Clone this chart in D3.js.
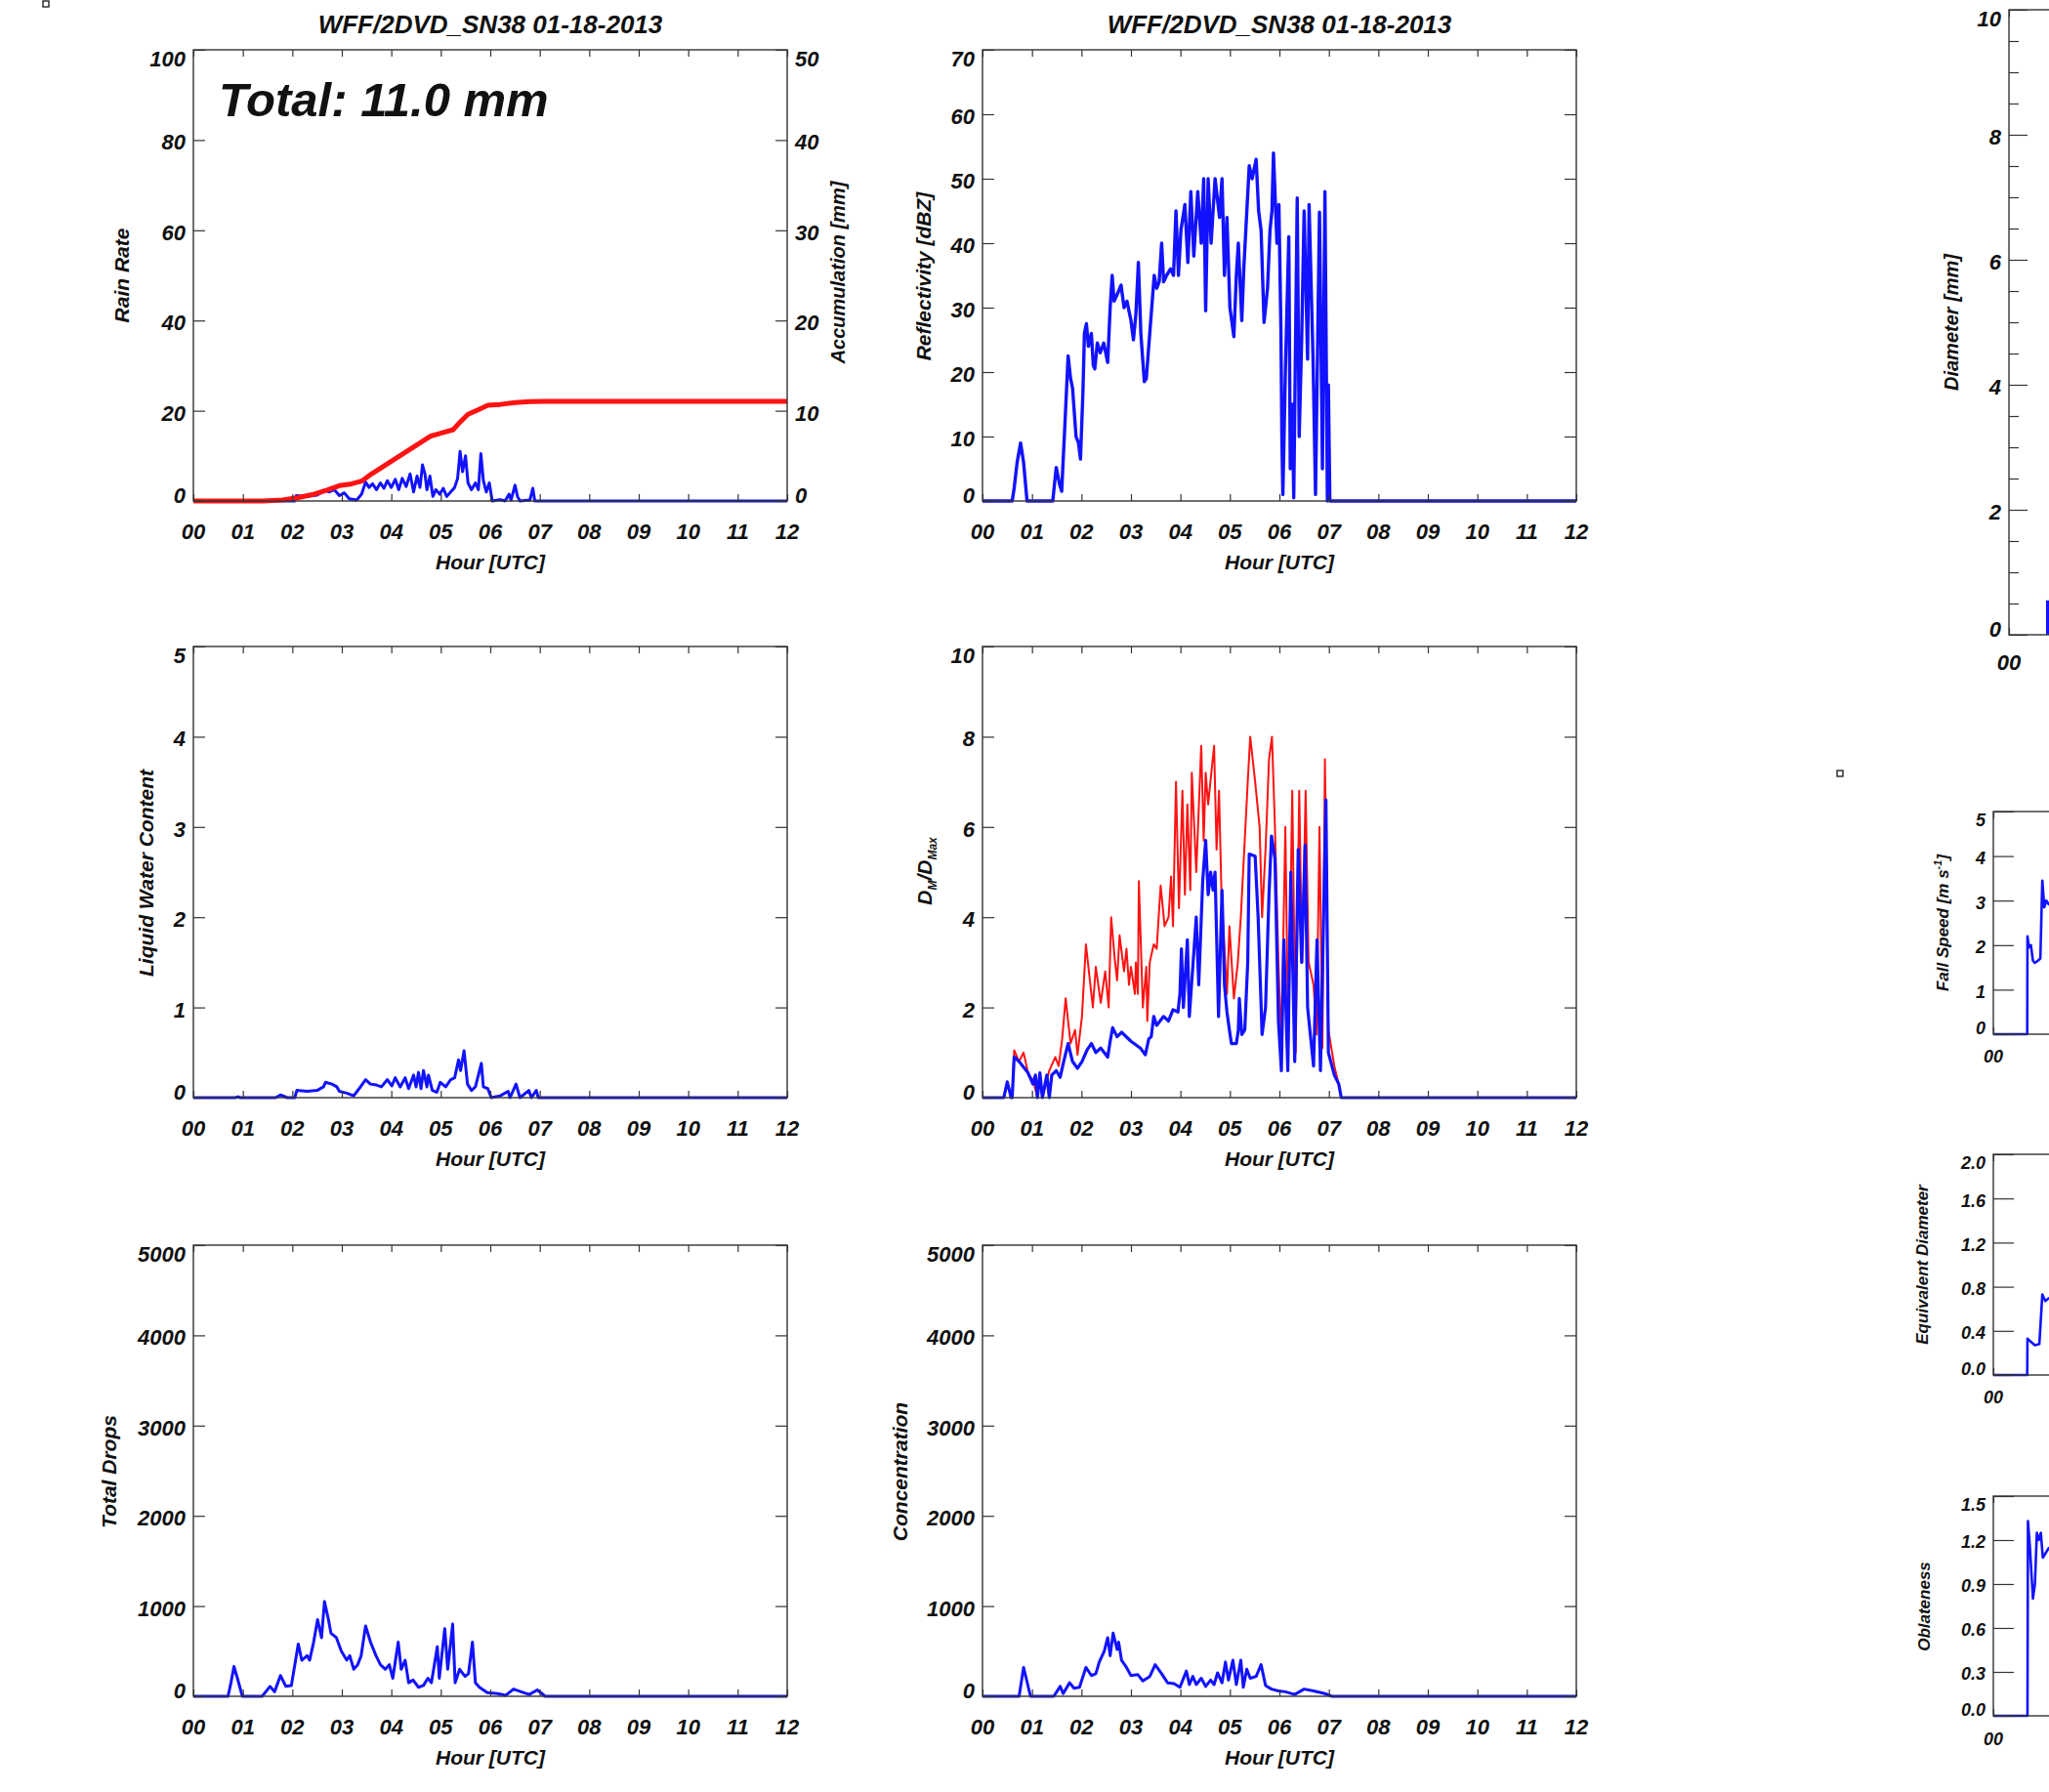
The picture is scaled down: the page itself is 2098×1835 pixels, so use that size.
<!DOCTYPE html>
<html>
<head>
<meta charset="utf-8">
<script src="https://cdn.jsdelivr.net/npm/d3@7"></script>
<style>
  body { margin: 0; background: #fff; }
  svg text { font-family: "Liberation Sans", Arial, sans-serif; font-weight: bold; font-style: italic; fill: #111; }
</style>
</head>
<body>
<div id="chart"></div>
<script>
// ---- data ----
const chartTitle = "WFF/2DVD_SN38 01-18-2013";
const totalText = "Total: 11.0 mm";
const hourTicks = [0, 1, 2, 3, 4, 5, 6, 7, 8, 9, 10, 11, 12];
const hourLabels = ["00", "01", "02", "03", "04", "05", "06", "07", "08", "09", "10", "11", "12"];

// [hour, value]
const rainRate = [[0,0],[2.05,0],[2.08,1.2],[2.3,1.0],[2.5,1.3],[2.65,2.3],[2.75,2.0],[2.85,2.5],[2.95,1.2],[3.05,1.8],[3.15,0.5],[3.3,0.2],[3.4,1.5],[3.48,4.2],[3.55,3.0],[3.62,3.8],[3.7,2.5],[3.78,4.0],[3.85,2.8],[3.92,4.5],[4.0,3.0],[4.08,4.8],[4.15,2.5],[4.22,5.0],[4.3,3.2],[4.38,6.0],[4.45,2.0],[4.52,5.5],[4.58,3.0],[4.63,8.0],[4.68,6.0],[4.72,2.5],[4.78,5.5],[4.84,1.0],[4.9,2.5],[4.98,1.5],[5.05,2.8],[5.12,1.0],[5.2,2.0],[5.28,3.0],[5.34,5.0],[5.39,11.0],[5.44,6.5],[5.5,10.0],[5.55,4.0],[5.62,2.5],[5.7,4.0],[5.76,2.5],[5.81,10.5],[5.86,4.5],[5.92,2.0],[5.98,4.0],[6.04,0],[6.2,0.3],[6.3,0],[6.38,1.5],[6.42,0.2],[6.5,3.5],[6.55,1.0],[6.6,0],[6.8,0.2],[6.86,2.8],[6.9,0],[12,0]];
const accumulation = [[0,0],[1.4,0],[1.8,0.1],[2.1,0.35],[2.4,0.7],[2.7,1.2],[2.95,1.7],[3.2,1.9],[3.4,2.2],[3.6,3.0],[3.8,3.7],[4.0,4.4],[4.2,5.1],[4.4,5.8],[4.6,6.5],[4.8,7.2],[5.0,7.5],[5.25,7.9],[5.4,8.8],[5.55,9.6],[5.75,10.1],[5.95,10.6],[6.2,10.7],[6.5,10.9],[6.8,11.0],[7.1,11.05],[12,11.05]];
const reflectivity = [[0,0],[0.6,0],[0.64,2],[0.7,6],[0.77,9],[0.83,6],[0.9,0],[1.42,0],[1.49,5.2],[1.56,2.5],[1.6,1.5],[1.66,11],[1.73,22.5],[1.78,19],[1.82,17.5],[1.89,10],[1.94,9],[1.98,6.5],[2.03,17],[2.06,26],[2.1,27.5],[2.14,24],[2.2,26],[2.24,21],[2.27,20.5],[2.32,24.5],[2.38,23],[2.45,24.5],[2.53,21.5],[2.58,30],[2.62,35],[2.66,31],[2.72,32],[2.8,33.5],[2.86,30],[2.92,31],[3.0,28],[3.05,25],[3.1,29],[3.15,37],[3.2,26],[3.27,18.5],[3.31,19],[3.38,26],[3.47,35],[3.52,33],[3.57,34],[3.62,40],[3.66,34],[3.72,35],[3.8,36],[3.86,35],[3.91,45],[3.96,35],[4.01,42],[4.09,46],[4.15,37],[4.21,48],[4.27,38],[4.35,48],[4.42,40],[4.47,50],[4.51,29.5],[4.56,50],[4.62,40],[4.7,50],[4.79,44],[4.84,50],[4.89,35],[4.94,44],[5.0,30],[5.08,25.5],[5.13,35],[5.17,40],[5.24,28],[5.28,36],[5.39,52],[5.45,50],[5.53,53],[5.58,45],[5.63,42],[5.69,27.7],[5.76,33],[5.81,42],[5.85,45],[5.88,54],[5.95,40],[5.99,46],[6.03,27],[6.05,10],[6.07,1],[6.12,20],[6.19,41],[6.22,5],[6.26,15],[6.29,0.5],[6.36,47],[6.4,10],[6.45,25],[6.5,45],[6.57,22],[6.6,46],[6.68,22],[6.73,1],[6.81,44.8],[6.87,5],[6.92,48],[6.97,0],[6.99,18],[7.02,0],[12,0]];
const liquidWater = [[0,0],[0.85,0],[0.9,0.01],[0.95,0],[1.66,0],[1.76,0.03],[1.9,0],[2.05,0],[2.09,0.08],[2.3,0.07],[2.5,0.08],[2.63,0.12],[2.67,0.17],[2.8,0.15],[2.9,0.12],[2.95,0.07],[3.1,0.05],[3.24,0.02],[3.35,0.1],[3.48,0.2],[3.58,0.15],[3.7,0.14],[3.8,0.12],[3.92,0.2],[4.01,0.13],[4.08,0.22],[4.18,0.12],[4.28,0.22],[4.35,0.1],[4.45,0.25],[4.5,0.12],[4.55,0.28],[4.6,0.1],[4.65,0.3],[4.72,0.12],[4.75,0.25],[4.83,0.08],[4.92,0.06],[4.99,0.17],[5.1,0.12],[5.2,0.2],[5.28,0.22],[5.36,0.42],[5.4,0.3],[5.47,0.52],[5.54,0.15],[5.62,0.08],[5.7,0.12],[5.82,0.38],[5.86,0.12],[5.95,0.1],[6.02,0],[6.2,0.02],[6.36,0.07],[6.4,0],[6.52,0.15],[6.6,0],[6.78,0.08],[6.83,0],[6.93,0.08],[6.97,0],[12,0]];
const dMass = [[0,0],[0.43,0],[0.5,0.35],[0.58,0],[0.6,0],[0.64,0.9],[0.74,0.8],[0.92,0.55],[1.02,0.3],[1.07,0.5],[1.11,0],[1.16,0.55],[1.21,0],[1.3,0.5],[1.35,0],[1.4,0.5],[1.49,0.6],[1.57,0.45],[1.63,0.75],[1.73,1.2],[1.82,0.8],[1.92,0.65],[2.01,0.8],[2.11,1.05],[2.2,1.2],[2.29,1.0],[2.39,1.1],[2.53,0.9],[2.58,1.25],[2.63,1.55],[2.72,1.35],[2.81,1.45],[3.0,1.25],[3.19,1.1],[3.29,0.95],[3.36,1.3],[3.41,1.35],[3.46,1.8],[3.52,1.6],[3.66,1.8],[3.76,1.7],[3.85,1.95],[3.95,1.9],[3.99,2.3],[4.02,3.3],[4.06,2.0],[4.14,3.5],[4.18,1.8],[4.32,4.0],[4.37,2.5],[4.45,4.8],[4.51,5.7],[4.56,4.5],[4.61,5.0],[4.66,4.6],[4.7,5.0],[4.77,1.8],[4.84,4.6],[4.89,2.5],[4.94,1.9],[4.99,1.5],[5.03,1.2],[5.13,1.2],[5.17,1.5],[5.19,2.2],[5.24,1.4],[5.3,1.5],[5.36,3.0],[5.39,5.4],[5.51,5.35],[5.57,4.0],[5.65,1.4],[5.72,2.0],[5.79,4.5],[5.84,5.8],[5.91,5.3],[5.98,1.7],[6.04,0.6],[6.09,3.5],[6.17,0.6],[6.23,5.0],[6.31,0.8],[6.38,5.5],[6.45,3.0],[6.52,5.6],[6.57,2.0],[6.69,0.7],[6.76,3.5],[6.83,0.6],[6.94,6.6],[6.99,1.0],[7.11,0.5],[7.2,0.3],[7.25,0],[12,0]];
const dMax = [[0,0],[0.43,0],[0.5,0.35],[0.58,0],[0.6,0],[0.64,1.05],[0.74,0.8],[0.83,1.0],[0.93,0.5],[1.02,0.4],[1.11,0],[1.16,0.5],[1.21,0],[1.35,0.6],[1.47,0.9],[1.54,0.7],[1.61,1.3],[1.68,2.2],[1.78,1.2],[1.87,1.5],[1.92,0.95],[2.01,1.8],[2.09,3.4],[2.15,2.8],[2.23,2.0],[2.29,2.9],[2.39,2.1],[2.48,2.8],[2.55,2.0],[2.6,4.0],[2.67,3.1],[2.72,2.6],[2.77,3.6],[2.86,2.8],[2.91,3.3],[2.96,2.5],[3.0,2.9],[3.08,2.3],[3.1,3.0],[3.14,2.3],[3.16,4.8],[3.24,2.0],[3.31,2.9],[3.33,1.7],[3.38,3.0],[3.46,3.4],[3.52,3.3],[3.6,4.7],[3.68,3.8],[3.76,4.0],[3.81,4.9],[3.85,3.8],[3.91,7.0],[3.97,4.2],[4.04,6.8],[4.09,4.5],[4.14,6.5],[4.2,4.6],[4.23,7.2],[4.32,5.0],[4.42,7.8],[4.47,5.7],[4.51,7.2],[4.56,6.5],[4.68,7.8],[4.73,5.5],[4.78,6.8],[4.83,4.5],[4.94,2.3],[4.99,3.8],[5.08,2.2],[5.16,3.0],[5.22,4.0],[5.29,5.5],[5.36,7.0],[5.41,8.0],[5.51,7.0],[5.6,6.0],[5.65,4.0],[5.72,5.5],[5.79,7.5],[5.85,8.0],[5.91,6.0],[5.98,3.0],[6.04,1.2],[6.12,6.0],[6.18,1.2],[6.26,6.8],[6.33,1.0],[6.4,6.8],[6.46,3.0],[6.53,6.8],[6.59,3.0],[6.69,2.5],[6.75,1.4],[6.81,6.0],[6.87,1.1],[6.92,7.5],[6.99,1.5],[7.11,0.7],[7.2,0.3],[7.25,0],[12,0]];
const totalDrops = [[0,0],[0.7,0],[0.76,150],[0.82,330],[0.89,200],[0.99,0],[1.39,0],[1.55,110],[1.64,50],[1.76,230],[1.87,110],[1.98,120],[2.12,580],[2.19,400],[2.3,450],[2.35,400],[2.43,600],[2.51,850],[2.59,650],[2.65,1050],[2.73,850],[2.78,700],[2.89,650],[2.99,500],[3.1,400],[3.16,450],[3.24,300],[3.32,350],[3.39,450],[3.48,780],[3.58,600],[3.69,450],[3.78,350],[3.88,300],[3.96,350],[4.03,200],[4.14,600],[4.2,300],[4.28,400],[4.35,150],[4.44,180],[4.55,100],[4.65,120],[4.74,200],[4.81,150],[4.93,550],[4.97,200],[5.08,750],[5.14,300],[5.24,800],[5.29,150],[5.38,300],[5.49,220],[5.56,250],[5.64,600],[5.7,150],[5.78,100],[5.94,40],[6.15,30],[6.31,10],[6.47,80],[6.68,40],[6.79,20],[6.95,70],[7.11,0],[12,0]];
const concentration = [[0,0],[0.74,0],[0.83,320],[0.97,0],[1.44,0],[1.57,110],[1.63,30],[1.76,150],[1.85,90],[1.96,100],[2.09,320],[2.2,230],[2.29,250],[2.36,380],[2.46,500],[2.53,650],[2.58,450],[2.64,700],[2.72,520],[2.75,600],[2.81,400],[2.91,320],[3.0,230],[3.14,240],[3.24,170],[3.38,220],[3.49,350],[3.62,250],[3.74,150],[3.87,140],[3.99,100],[4.12,280],[4.18,130],[4.25,220],[4.32,130],[4.42,200],[4.51,110],[4.61,180],[4.68,130],[4.75,260],[4.84,150],[4.91,380],[4.97,180],[5.06,400],[5.13,130],[5.22,400],[5.27,100],[5.34,300],[5.41,200],[5.53,220],[5.63,350],[5.72,120],[5.84,80],[5.98,60],[6.12,50],[6.31,20],[6.5,80],[6.69,60],[6.92,30],[7.06,0],[12,0]];

// right column (cut off at the page edge)
const diameterBar = [[0.75, 0.81, 0.55]]; // [start hour, end hour, diameter]
const fallSpeed = [[0,0],[0.685,0],[0.69,2.2],[0.72,1.95],[0.76,2.0],[0.8,1.65],[0.84,1.6],[0.9,1.65],[0.95,1.7],[0.99,3.45],[1.03,2.85],[1.07,3.0],[1.13,2.9]];
const eqDiameter = [[0,0],[0.685,0],[0.69,0.33],[0.76,0.3],[0.84,0.27],[0.93,0.28],[0.99,0.73],[1.05,0.67],[1.13,0.7]];
const oblateness = [[0,0],[0.69,0],[0.7,1.33],[0.74,1.15],[0.8,0.8],[0.84,0.9],[0.88,1.25],[0.92,1.2],[0.96,1.25],[1.0,1.08],[1.13,1.15]];

const rainTicks = [0, 20, 40, 60, 80, 100];
const accTicks = [0, 10, 20, 30, 40, 50];
const dbzTicks = [0, 10, 20, 30, 40, 50, 60, 70];
const lwcTicks = [0, 1, 2, 3, 4, 5];
const dTicks = [0, 2, 4, 6, 8, 10];
const dropTicks = [0, 1000, 2000, 3000, 4000, 5000];
const diamTicks = [0, 2, 4, 6, 8, 10];
const diamMinor = [0.5, 1, 1.5, 2.5, 3, 3.5, 4.5, 5, 5.5, 6.5, 7, 7.5, 8.5, 9, 9.5];
const speedTicks = [0, 1, 2, 3, 4, 5];
const eqTicks = [0, 0.4, 0.8, 1.2, 1.6, 2.0];
const oblTicks = [0, 0.3, 0.6, 0.9, 1.2, 1.5];

// ---- drawing ----
const BLUE = "#1212ff", RED = "#ff1212", INK = "#333";
const svg = d3.select("#chart").append("svg").attr("width", 2098).attr("height", 1835);

function drawPanel(o) {
  const w = o.width, h = o.height;
  const x = d3.scaleLinear().domain([0, 12]).range([0, w]);
  const y = d3.scaleLinear().domain(o.yDomain).range([h, 0]);
  const g = svg.append("g").attr("transform", `translate(${o.left},${o.top})`);
  const fs = o.fontSize || 22;

  (o.bars || []).forEach(b => {
    g.append("rect").attr("x", x(b[0])).attr("y", y(b[2]))
      .attr("width", x(b[1]) - x(b[0])).attr("height", y(0) - y(b[2])).attr("fill", BLUE);
  });

  o.series.forEach(s => {
    const ys = s.yDomain ? d3.scaleLinear().domain(s.yDomain).range([h, 0]) : y;
    g.append("path").datum(s.data)
      .attr("fill", "none").attr("stroke", s.color).attr("stroke-width", s.width)
      .attr("stroke-linejoin", "round")
      .attr("d", d3.line().x(d => x(d[0])).y(d => ys(d[1])));
  });

  g.append("rect").attr("width", w).attr("height", h)
    .attr("fill", "none").attr("stroke", INK).attr("stroke-width", 1.4);

  const xt = o.xTicks || hourTicks;
  const strip = sel => sel.call(a => a.select(".domain").remove())
    .call(a => a.selectAll(".tick line").attr("stroke", INK).attr("stroke-width", 1.2));

  g.append("g").call(d3.axisTop(x).tickValues(xt).tickSize(-7).tickFormat("")).call(strip);
  g.append("g").attr("transform", `translate(0,${h})`)
    .call(d3.axisBottom(x).tickValues(xt).tickSize(-7).tickFormat(""))
    .call(strip);

  // hour labels
  g.selectAll(".hl").data(xt).join("text")
    .attr("x", d => x(d)).attr("y", h + (o.hourGap || 31)).attr("dy", "0.36em")
    .attr("text-anchor", "middle").attr("font-size", fs)
    .text(d => hourLabels[hourTicks.indexOf(d)]);

  if (o.xTitle) {
    g.append("text").attr("x", w / 2).attr("y", h + 62).attr("dy", "0.36em")
      .attr("text-anchor", "middle").attr("font-size", 21).text(o.xTitle);
  }

  const tl = o.tickLen || 12;
  g.append("g").call(d3.axisLeft(y).tickValues(o.yTicks).tickSize(-tl).tickFormat("")).call(strip);
  g.append("g").attr("transform", `translate(${w},0)`)
    .call(d3.axisRight(y).tickValues(o.yTicks).tickSize(-tl).tickFormat("")).call(strip);
  if (o.minor) {
    g.append("g").call(d3.axisLeft(y).tickValues(o.minor).tickSize(-10).tickFormat("")).call(strip);
  }

  const shift = (d, i, arr) => i === 0 ? -6 : (i === arr.length - 1 ? 9 : 2);
  g.selectAll(".yl").data(o.yTicks).join("text")
    .attr("x", -(o.labelGap || 8)).attr("y", (d, i, n) => y(d) + shift(d, i, n))
    .attr("dy", "0.36em").attr("text-anchor", "end").attr("font-size", fs)
    .text(o.yFormat || (d => d));

  if (o.right) {
    const yr = d3.scaleLinear().domain(o.right.domain).range([h, 0]);
    g.selectAll(".yr").data(o.right.ticks).join("text")
      .attr("x", w + 8).attr("y", (d, i, n) => yr(d) + shift(d, i, n))
      .attr("dy", "0.36em").attr("text-anchor", "start").attr("font-size", fs)
      .text(d => d);
  }
  return g;
}

function yTitle(x, y, size, build) {
  const t = svg.append("text").attr("transform", `translate(${x},${y}) rotate(-90)`)
    .attr("text-anchor", "middle").attr("dy", "0.36em").attr("font-size", size);
  build(t);
  return t;
}

const COLS = [198, 1006], ROWS = [51, 662, 1275], PW = 608, PH = 462;

// titles
[COLS[0] + PW / 2, COLS[1] + PW / 2].forEach(cx => {
  svg.append("text").attr("x", cx).attr("y", 34).attr("text-anchor", "middle")
    .attr("font-size", 26).text(chartTitle);
});

// 1: rain rate + accumulation
drawPanel({
  left: COLS[0], top: ROWS[0], width: PW, height: PH, yDomain: [0, 100], yTicks: rainTicks,
  xTitle: "Hour [UTC]",
  right: { domain: [0, 50], ticks: accTicks },
  series: [
    { data: rainRate, color: BLUE, width: 3 },
    { data: accumulation, color: RED, width: 5 }
  ].map((s, i) => i === 1 ? Object.assign(s, { yDomain: [0, 50] }) : s)
});
svg.append("text").attr("x", 224).attr("y", 119).attr("font-size", 49).text(totalText);
yTitle(124, 282, 21, t => t.text("Rain Rate"));
yTitle(858, 279, 20, t => t.text("Accumulation [mm]"));

// 2: reflectivity
drawPanel({
  left: COLS[1], top: ROWS[0], width: PW, height: PH, yDomain: [0, 70], yTicks: dbzTicks,
  xTitle: "Hour [UTC]",
  series: [{ data: reflectivity, color: BLUE, width: 3.4 }]
});
yTitle(945, 283, 21, t => t.text("Reflectivity [dBZ]"));

// 3: liquid water content
drawPanel({
  left: COLS[0], top: ROWS[1], width: PW, height: PH, yDomain: [0, 5], yTicks: lwcTicks,
  xTitle: "Hour [UTC]",
  series: [{ data: liquidWater, color: BLUE, width: 3 }]
});
yTitle(149, 894, 21, t => t.text("Liquid Water Content"));

// 4: Dm / Dmax
drawPanel({
  left: COLS[1], top: ROWS[1], width: PW, height: PH, yDomain: [0, 10], yTicks: dTicks,
  xTitle: "Hour [UTC]",
  series: [
    { data: dMax, color: RED, width: 2 },
    { data: dMass, color: BLUE, width: 3.2 }
  ]
});
yTitle(946, 892, 21, t => {
  t.append("tspan").text("D");
  t.append("tspan").attr("font-size", 12).attr("dy", 5).text("M");
  t.append("tspan").attr("dy", -5).text("/D");
  t.append("tspan").attr("font-size", 12).attr("dy", 5).text("Max");
});

// 5: total drops
drawPanel({
  left: COLS[0], top: ROWS[2], width: PW, height: PH, yDomain: [0, 5000], yTicks: dropTicks,
  xTitle: "Hour [UTC]",
  series: [{ data: totalDrops, color: BLUE, width: 3 }]
});
yTitle(111, 1507, 21, t => t.text("Total Drops"));

// 6: concentration
drawPanel({
  left: COLS[1], top: ROWS[2], width: PW, height: PH, yDomain: [0, 5000], yTicks: dropTicks,
  xTitle: "Hour [UTC]",
  series: [{ data: concentration, color: BLUE, width: 3 }]
});
yTitle(921, 1507, 21, t => t.text("Concentration"));

// right column, partly off the page
drawPanel({
  left: 2057, top: 10, width: PW, height: 640, yDomain: [0, 10], yTicks: diamTicks,
  minor: diamMinor, tickLen: 19, xTicks: [0], hourGap: 28,
  bars: diameterBar, series: []
});
yTitle(1998, 330, 20, t => t.text("Diameter [mm]"));

drawPanel({
  left: 2041, top: 831, width: PW, height: 228, yDomain: [0, 5], yTicks: speedTicks,
  tickLen: 21, xTicks: [0], hourGap: 23, fontSize: 18, labelGap: 8,
  series: [{ data: fallSpeed, color: BLUE, width: 2.6 }]
});
yTitle(1989, 945, 17, t => {
  t.append("tspan").text("Fall Speed [m s");
  t.append("tspan").attr("font-size", 11).attr("dy", -7).text("-1");
  t.append("tspan").attr("dy", 7).text("]");
});

drawPanel({
  left: 2041, top: 1182, width: PW, height: 226, yDomain: [0, 2], yTicks: eqTicks,
  tickLen: 21, xTicks: [0], hourGap: 23, fontSize: 18,
  yFormat: d3.format(".1f"),
  series: [{ data: eqDiameter, color: BLUE, width: 2.6 }]
});
yTitle(1968, 1295, 17, t => t.text("Equivalent Diameter"));

drawPanel({
  left: 2041, top: 1532, width: PW, height: 225, yDomain: [0, 1.5], yTicks: oblTicks,
  tickLen: 21, xTicks: [0], hourGap: 24, fontSize: 18,
  yFormat: d3.format(".1f"),
  series: [{ data: oblateness, color: BLUE, width: 2.6 }]
});
yTitle(1970, 1645, 17, t => t.text("Oblateness"));

// small stray plot markers
[[44, 1], [1881, 789]].forEach(p => {
  svg.append("rect").attr("x", p[0]).attr("y", p[1]).attr("width", 6).attr("height", 6)
    .attr("fill", "none").attr("stroke", "#111").attr("stroke-width", 1.3);
});
</script>
</body>
</html>
